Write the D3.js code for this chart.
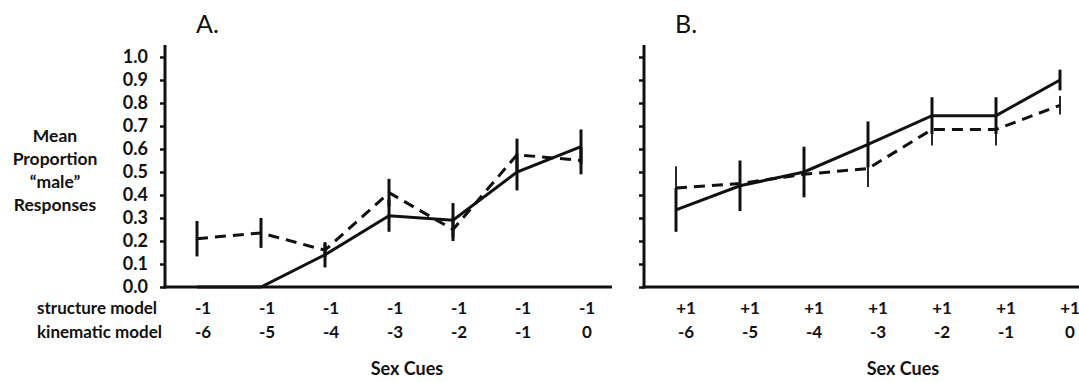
<!DOCTYPE html>
<html>
<head>
<meta charset="utf-8">
<script src="https://cdn.jsdelivr.net/npm/d3@7"></script>
<style>
  body { margin: 0; background: #fff; }
  text { font-family: Lato, "Open Sans", sans-serif; fill: #111; }
</style>
</head>
<body>
<svg id="chart" width="1079" height="382"></svg>
<script>
// category labels
const structureA = ['-1', '-1', '-1', '-1', '-1', '-1', '-1'];
const structureB = ['+1', '+1', '+1', '+1', '+1', '+1', '+1'];
const kinematic = ['-6', '-5', '-4', '-3', '-2', '-1', '0'];
const yTicks = [0, 0.1, 0.2, 0.3, 0.4, 0.5, 0.6, 0.7, 0.8, 0.9, 1.0];
const yLabelLines = ['Mean', 'Proportion', '\u201cmale\u201d', 'Responses'];

// panel A values (solid & dashed series, with error half-widths)
const solidA = [0, 0, 0.14, 0.31, 0.29, 0.50, 0.61];
const solidAErr = [0, 0, 0.055, 0.07, 0.075, 0.08, 0.075];
const dashedA = [0.21, 0.235, 0.16, 0.41, 0.25, 0.575, 0.55];
const dashedAErr = [0.077, 0.065, 0.03, 0.06, 0.05, 0.07, 0.06];

// panel B values
const solidB = [0.335, 0.44, 0.50, 0.62, 0.745, 0.745, 0.90];
const solidBErr = [0.095, 0.11, 0.11, 0.10, 0.08, 0.08, 0.045];
const dashedB = [0.43, 0.45, 0.49, 0.515, 0.685, 0.685, 0.79];
const dashedBErr = [0.095, 0.08, 0.08, 0.08, 0.07, 0.07, 0.04];

const svg = d3.select('#chart');
svg.append('rect').attr('width', 1079).attr('height', 382).attr('fill', '#fff');

const y = d3.scaleLinear().domain([0, 1]).range([287, 57]);
const idx = d3.range(7);

function drawPanel(opt) {
    const x = d3.scaleBand().domain(idx).range([opt.left, opt.left + 448]);
    const cx = i => x(i) + x.bandwidth() / 2;

    // y axis
    const yAxis = d3.axisLeft(y)
        .tickValues(yTicks)
        .tickSize(5)
        .tickSizeOuter(0)
        .tickPadding(12)
        .tickFormat(opt.labels ? d3.format('.1f') : '');
    const gy = svg.append('g')
        .attr('transform', `translate(${opt.left},0)`)
        .call(yAxis);
    gy.select('.domain').remove();
    gy.selectAll('.tick line').attr('stroke', '#111').attr('stroke-width', 2.5);
    gy.selectAll('.tick text')
        .style('font-size', '18px').style('font-weight', 'bold')
        .attr('fill', '#111');
    svg.append('line')
        .attr('x1', opt.left).attr('x2', opt.left)
        .attr('y1', 45).attr('y2', y(0) + 1.5)
        .attr('stroke', '#111').attr('stroke-width', 3);

    // x axis line
    svg.append('line')
        .attr('x1', opt.left - 1.5).attr('x2', opt.xEnd)
        .attr('y1', y(0)).attr('y2', y(0))
        .attr('stroke', '#111').attr('stroke-width', 3);

    // two rows of category labels
    const rows = [[opt.structure, 308], [kinematic, 332]];
    rows.forEach(([labels, ty]) => {
        svg.append('g').selectAll('text')
            .data(labels)
            .join('text')
            .attr('x', (d, i) => cx(i) + opt.labelShift)
            .attr('y', ty)
            .attr('dy', '0.35em')
            .attr('text-anchor', 'middle')
            .style('font-size', '17px').style('font-weight', 'bold')
            .text(d => d);
    });

    const line = d3.line().x((d, i) => cx(i)).y(d => y(d));

    // error bars
    const bars = (vals, errs, w) => {
        svg.append('g').selectAll('line')
            .data(vals)
            .join('line')
            .attr('x1', (d, i) => cx(i)).attr('x2', (d, i) => cx(i))
            .attr('y1', (d, i) => y(d + errs[i]))
            .attr('y2', (d, i) => y(Math.max(0, d - errs[i])))
            .attr('stroke', '#111')
            .attr('stroke-width', (d, i) => errs[i] > 0 ? w : 0);
    };
    bars(opt.dashed, opt.dashedErr, opt.dashBarWidth);
    bars(opt.solid, opt.solidErr, 3);

    svg.append('path')
        .datum(opt.dashed)
        .attr('d', line)
        .attr('fill', 'none')
        .attr('stroke', '#111')
        .attr('stroke-width', 3)
        .attr('stroke-dasharray', '11,7');
    svg.append('path')
        .datum(opt.solid)
        .attr('d', line)
        .attr('fill', 'none')
        .attr('stroke', '#111')
        .attr('stroke-width', 3);

    // panel letter
    svg.append('text')
        .attr('x', opt.left + 31).attr('y', 33)
        .style('font-size', '25px')
        .text(opt.letter);

    // x title
    svg.append('text')
        .attr('x', opt.titleX).attr('y', 375)
        .attr('text-anchor', 'middle')
        .style('font-size', '18px').style('font-weight', 'bold')
        .text('Sex Cues');
}

drawPanel({
    left: 165, xEnd: 612, letter: 'A.', labels: true,
    structure: structureA, labelShift: 6, titleX: 407,
    solid: solidA, solidErr: solidAErr, dashed: dashedA, dashedErr: dashedAErr,
    dashBarWidth: 3
});
drawPanel({
    left: 644, xEnd: 1079, letter: 'B.', labels: false,
    structure: structureB, labelShift: 10, titleX: 903,
    solid: solidB, solidErr: solidBErr, dashed: dashedB, dashedErr: dashedBErr,
    dashBarWidth: 1.8
});

// y axis title
svg.append('g').selectAll('text')
    .data(yLabelLines)
    .join('text')
    .attr('x', 55)
    .attr('y', (d, i) => 136 + i * 23)
    .attr('dy', '0.35em')
    .attr('text-anchor', 'middle')
    .style('font-size', '17.5px').style('font-weight', 'bold')
    .text(d => d);

// row titles
svg.append('g').selectAll('text')
    .data(['structure model', 'kinematic model'])
    .join('text')
    .attr('x', 37)
    .attr('y', (d, i) => 308 + i * 24)
    .attr('dy', '0.35em')
    .style('font-size', '17px').style('font-weight', 'bold')
    .text(d => d);
</script>
</body>
</html>
